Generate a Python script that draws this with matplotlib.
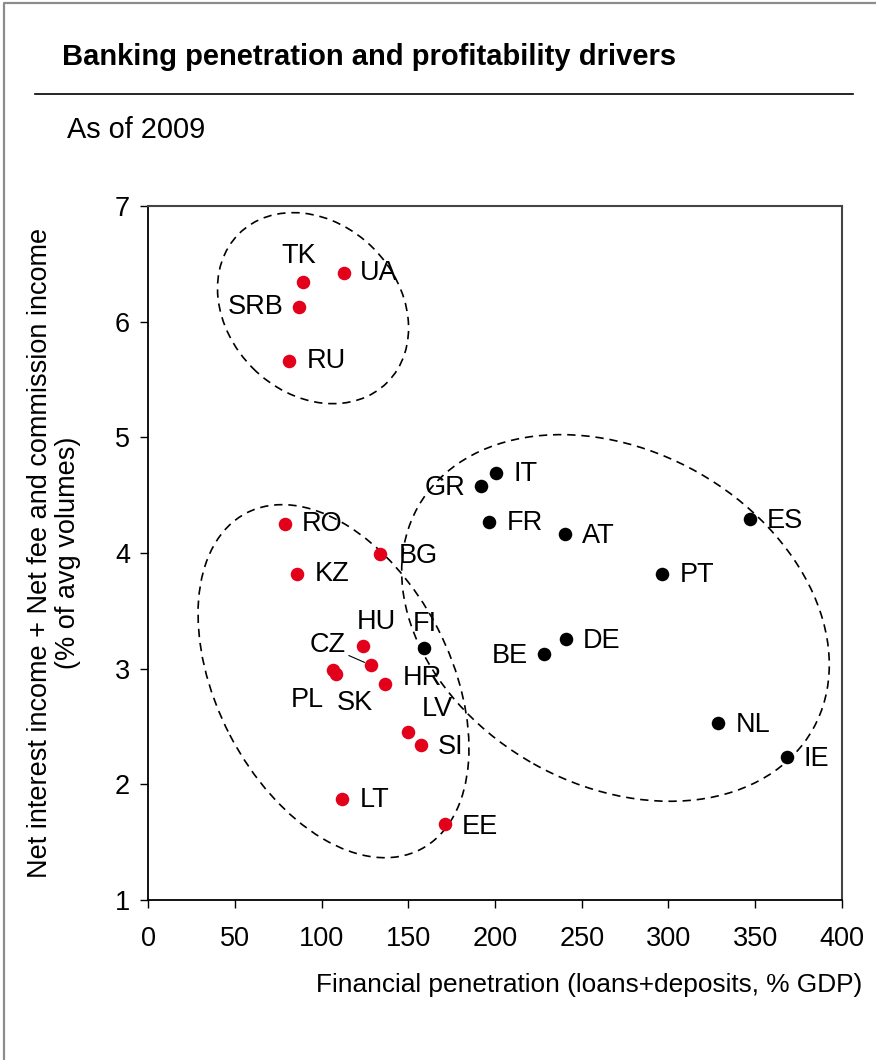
import matplotlib.pyplot as plt
from matplotlib.patches import Ellipse
from matplotlib.lines import Line2D

plt.rcParams["font.family"] = ["Liberation Sans", "DejaVu Sans"]

# Emerging markets (red) and eurozone (black) banking systems, 2009
em_countries = ["TK", "UA", "SRB", "RU", "RO", "BG", "KZ", "HU", "CZ",
                "PL", "SK", "HR", "LV", "SI", "LT", "EE"]
em_penetration = [89.5, 113, 87, 81.4, 78.8, 133.9, 86.1, 123.7, 128.5,
                  106.4, 108.4, 136.8, 149.7, 157.2, 112, 171]
em_income = [6.34, 6.42, 6.13, 5.66, 4.25, 3.99, 3.82, 3.20, 3.03,
             2.99, 2.95, 2.87, 2.45, 2.34, 1.87, 1.66]

eu_countries = ["FI", "IT", "GR", "FR", "AT", "ES", "PT", "DE", "BE", "NL", "IE"]
eu_penetration = [159.1, 200.6, 192.1, 196.7, 240.2, 346.8, 296.4, 240.9,
                  228.1, 328.7, 368.1]
eu_income = [3.18, 4.69, 4.58, 4.27, 4.16, 4.29, 3.82, 3.26, 3.13, 2.53, 2.24]

x_ticks = [0, 50, 100, 150, 200, 250, 300, 350, 400]
y_ticks = [1, 2, 3, 4, 5, 6, 7]

# label offsets in pixels and alignment for each country
label_pos = {
    "TK": (-5, 26, "center"), "UA": (16, 0, "left"), "SRB": (-15, 0, "right"),
    "RU": (18, 0, "left"), "RO": (17, 0, "left"), "BG": (18, -2, "left"),
    "KZ": (17, 0, "left"), "HU": (14, 24, "center"), "CZ": (-43, 20, "center"),
    "PL": (-25, -30, "center"), "SK": (19, -29, "center"), "HR": (17, 6, "left"),
    "LV": (30, 23, "center"), "SI": (17, -2, "left"), "LT": (17, -1, "left"),
    "EE": (17, -3, "left"), "FI": (1, 24, "center"), "IT": (17, -1, "left"),
    "GR": (-16, -2, "right"), "FR": (17, -1, "left"), "AT": (17, -2, "left"),
    "ES": (17, -2, "left"), "PT": (17, -1, "left"), "DE": (17, -2, "left"),
    "BE": (-16, -2, "right"), "NL": (17, -2, "left"), "IE": (17, -2, "left"),
}

RED = "#E3001B"
FS = 19.5

fig = plt.figure(figsize=(8.76, 10.6), dpi=100)
ax = fig.add_axes([148 / 876, 1 - 900 / 1060, 694 / 876, 694 / 1060])

ax.scatter(em_penetration, em_income, s=95, color=RED, zorder=3, linewidths=0)
ax.scatter(eu_penetration, eu_income, s=95, color="black", zorder=3, linewidths=0)

for names, xs, ys in [(em_countries, em_penetration, em_income),
                      (eu_countries, eu_penetration, eu_income)]:
    for name, xv, yv in zip(names, xs, ys):
        dx, dy, ha = label_pos[name]
        kw = {}
        if name == "CZ":
            kw["arrowprops"] = dict(arrowstyle="-", lw=0.8, color="black",
                                    shrinkA=0, shrinkB=5, relpos=(1.0, 0.15))
        ax.annotate(name, (xv, yv), xytext=(dx, dy), textcoords="offset pixels",
                    ha=ha, va="center", fontsize=FS, zorder=4, **kw)

# dashed groupings, drawn in axes fractions (axes is square in pixels)
groups = [
    ((0.2378, 0.8528), 0.3026, 0.2450, -45.0),
    ((0.2673, 0.3153), 0.5458, 0.3366, -62.6),
    ((0.6736, 0.4064), 0.6530, 0.4820, -29.4),
]
for center, w, h, ang in groups:
    ax.add_patch(Ellipse(center, w, h, angle=ang, transform=ax.transAxes,
                         fill=False, edgecolor="black", lw=1.2,
                         linestyle=(0, (5, 3.5)), zorder=2))

ax.set_xlim(0, 400)
ax.set_ylim(1, 7)
ax.set_xticks(x_ticks)
ax.set_yticks(y_ticks)
ax.tick_params(axis="both", direction="out", length=6, width=1, labelsize=FS)
ax.tick_params(axis="x", pad=13)
ax.tick_params(axis="y", pad=7)
for side in ["left", "bottom"]:
    ax.spines[side].set_linewidth(1.3)
    ax.spines[side].set_color("black")
for side in ["top", "right"]:
    ax.spines[side].set_linewidth(1.5)
    ax.spines[side].set_color("#444444")

fig.text(862 / 876, 1 - 985 / 1060, "Financial penetration (loans+deposits, % GDP)",
         ha="right", va="center", fontsize=18.9)
fig.text(54 / 876, 1 - 553 / 1060,
         "Net interest income + Net fee and commission income\n(% of avg volumes)",
         rotation=90, ha="center", va="center", multialignment="center",
         fontsize=FS, linespacing=1.1)

fig.text(62 / 876, 1 - 57 / 1060, "Banking penetration and profitability drivers",
         ha="left", va="center", fontsize=21, fontweight="bold")
fig.text(67 / 876, 1 - 130 / 1060, "As of 2009", ha="left", va="center", fontsize=20.8)
fig.add_artist(Line2D([35 / 876, 853 / 876], [1 - 94 / 1060, 1 - 94 / 1060],
                      transform=fig.transFigure, color="black", lw=1.2))

# outer panel border
fig.add_artist(Line2D([4 / 876, 4 / 876, 1.0], [0.0, 1 - 3 / 1060, 1 - 3 / 1060],
                      transform=fig.transFigure, color="#8c8c8c", lw=1.6))

fig.savefig("out.png", dpi=100)
